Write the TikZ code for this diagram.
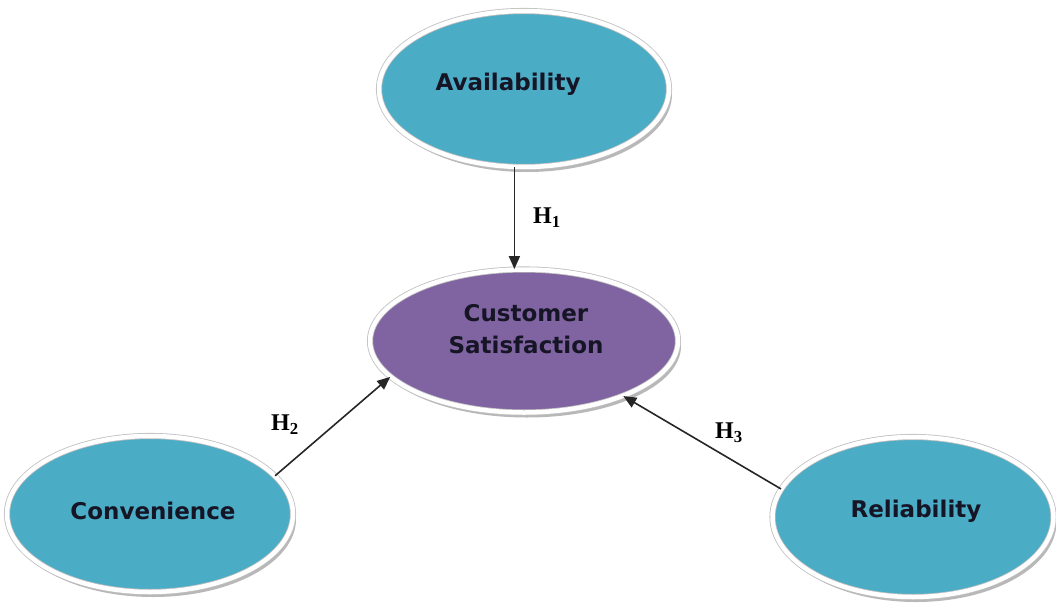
\documentclass[tikz,border=0pt]{standalone}
\usepackage{fontspec}
\setmainfont{Liberation Serif}
\newfontfamily\boxfont{DejaVu Sans}
\usetikzlibrary{shapes.geometric,arrows.meta}
\definecolor{tealfill}{HTML}{4BACC6}
\definecolor{purplefill}{HTML}{8064A2}
\definecolor{txtdark}{HTML}{151525}
\tikzset{
  oval/.style={ellipse, draw=black!25, double=white, double distance=4.5pt, line width=0.8pt,
    preaction={fill=black!28, transform canvas={shift={(3pt,-5pt)}}}},
  tealoval/.style={oval, fill=tealfill},
  purpleoval/.style={oval, fill=purplefill},
  lbl/.style={font=\boxfont\bfseries\fontsize{23}{32}\selectfont, text=txtdark, align=center, inner sep=0pt},
  hyp/.style={font=\bfseries\fontsize{24}{26}\selectfont, text=black, inner sep=0pt},
  conn/.style={-{Triangle[length=13pt,width=11pt]}, line width=1.6pt, black!85}
}
\begin{document}
\begin{tikzpicture}[x=1pt,y=-1pt]
\useasboundingbox (0,0) rectangle (1056,602);
\node[tealoval, minimum width=290pt, minimum height=156pt] (avail) at (524,89) {};
\node[purpleoval, minimum width=308pt, minimum height=143pt] (cs) at (524,341) {};
\node[tealoval, minimum width=286pt, minimum height=156pt] (conv) at (150,514) {};
\node[tealoval, minimum width=281pt, minimum height=160pt] (rel) at (913,517) {};
\node[lbl] (availT) at (508,84) {Availability};
\node[lbl] (csT) at (526,329) {Customer\\Satisfaction};
\node[lbl] (convT) at (153,511) {Convenience};
\node[lbl] (relT) at (916,511) {Reliability};
\draw[conn] (avail.-97) -- (avail.-97 |- cs.north);
\draw[conn] (conv.17) -- (cs.195);
\draw[conn] (rel.168) -- (cs.-29);
\node[hyp] (h1) at (547,218) {H\textsubscript{1}};
\node[hyp] (h2) at (285,425) {H\textsubscript{2}};
\node[hyp] (h3) at (729,433) {H\textsubscript{3}};
\end{tikzpicture}
\end{document}
